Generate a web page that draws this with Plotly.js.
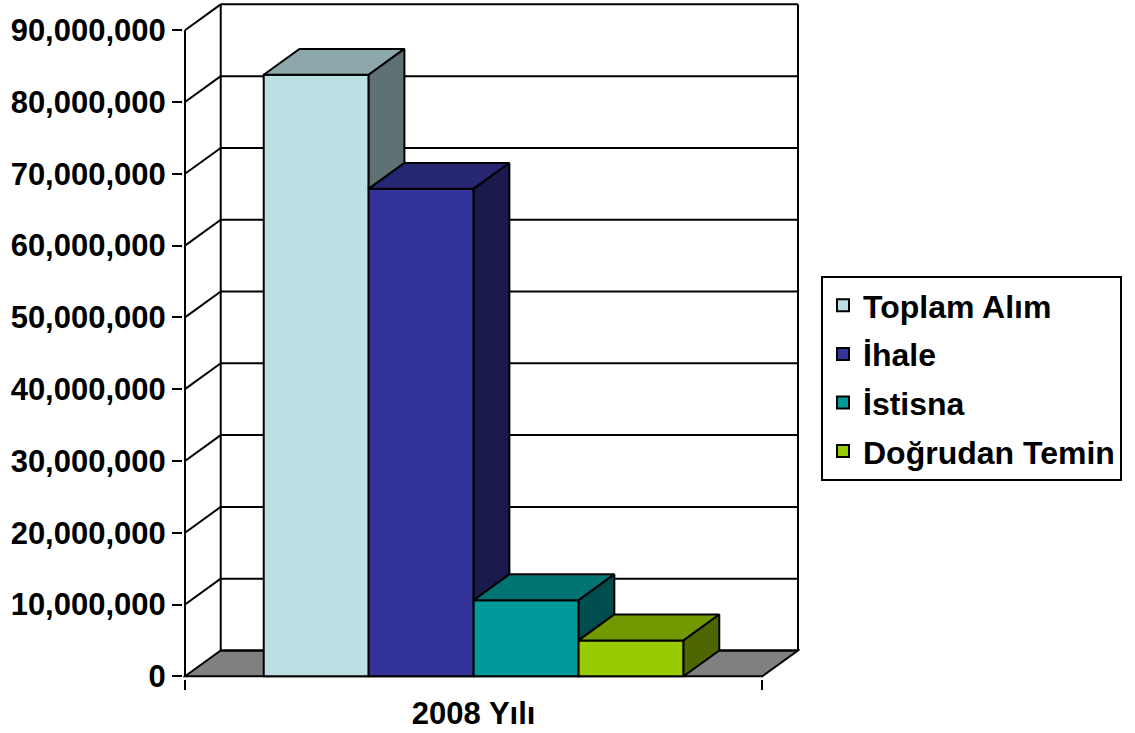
<!DOCTYPE html>
<html>
<head>
<meta charset="utf-8">
<script src="https://cdn.plot.ly/plotly-3.0.1.min.js"></script>
<style>
  html, body { margin: 0; padding: 0; background: #ffffff; }
  #chart { width: 1135px; height: 733px; }
</style>
</head>
<body>
<div id="chart"></div>
<script>
// Purchase totals for 2008, split by procurement method
const category = '2008 Yılı';
const seriesNames = ['Toplam Alım', 'İhale', 'İstisna', 'Doğrudan Temin'];
const seriesValues = [83800000, 67900000, 10600000, 5000000];
const yTicks = [0, 10000000, 20000000, 30000000, 40000000, 50000000, 60000000, 70000000, 80000000, 90000000];

// Face colours for each series: front, top, side
const frontColors = ['#BCE0E4', '#333399', '#009999', '#99CC00'];
const topColors = ['#8DA8AB', '#262673', '#007373', '#739900'];
const sideColors = ['#5E7072', '#1A1A4D', '#004D4D', '#4D6600'];

// Oblique projection of the depth axis, expressed in axis units
const depthX = 0.0619;      // category units
const depthY = 3600000;     // value units
const gapWidth = 1.5;       // gap as a multiple of one bar width
const barW = 1 / (seriesValues.length + gapWidth);
const left0 = -0.5 + (gapWidth * barW) / 2;

const axisFont = { family: 'Liberation Sans, Arial, sans-serif', size: 31, color: '#000000', weight: 'bold' };
const legendFont = { family: 'Liberation Sans, Arial, sans-serif', size: 32, color: '#000000', weight: 'bold' };
const edge = { color: '#000000', width: 2 };

const traces = [];

// Front faces: one bar per series
seriesNames.forEach((name, i) => {
  traces.push({
    type: 'bar',
    name: name,
    x: [0],
    y: [seriesValues[i]],
    width: [barW],
    offset: [left0 + i * barW],
    marker: { color: frontColors[i], line: edge },
    legendgroup: 'g' + i,
    hoverinfo: 'skip'
  });
});

// Top and side faces, painted left to right so each bar covers the one behind it
seriesNames.forEach((name, i) => {
  const v = seriesValues[i];
  const l = left0 + i * barW;
  const r = l + barW;
  const next = i + 1 < seriesValues.length ? Math.min(seriesValues[i + 1], v) : 0;
  traces.push({
    type: 'scatter', mode: 'lines', showlegend: false, hoverinfo: 'skip',
    x: [l, r, r + depthX, l + depthX, l],
    y: [v, v, v + depthY, v + depthY, v],
    fill: 'toself', fillcolor: topColors[i], line: edge,
    legendgroup: 'g' + i
  });
  traces.push({
    type: 'scatter', mode: 'lines', showlegend: false, hoverinfo: 'skip',
    x: [r, r, r + depthX, r + depthX, r],
    y: [next, v, v + depthY, next + depthY, next],
    fill: 'toself', fillcolor: sideColors[i], line: edge,
    legendgroup: 'g' + i
  });
});

// Walls, floor and gridlines of the 3-D box
const shapes = [];
const xl = -0.5, xr = 0.5;
const yTop = yTicks[yTicks.length - 1];
const wallLine = { color: '#000000', width: 2 };
shapes.push({
  type: 'path', xref: 'x', yref: 'y', layer: 'below',
  path: `M${xl},0 L${xr},0 L${xr + depthX},${depthY} L${xl + depthX},${depthY} Z`,
  fillcolor: '#808080', line: wallLine
});
yTicks.forEach(t => {
  shapes.push({ type: 'line', xref: 'x', yref: 'y', layer: 'below',
    x0: xl + depthX, x1: xr + depthX, y0: t + depthY, y1: t + depthY, line: wallLine });
  if (t > 0) {
    shapes.push({ type: 'line', xref: 'x', yref: 'y', layer: 'below',
      x0: xl, x1: xl + depthX, y0: t, y1: t + depthY, line: wallLine });
  }
});
shapes.push({ type: 'line', xref: 'x', yref: 'y', layer: 'below',
  x0: xl + depthX, x1: xl + depthX, y0: depthY, y1: yTop + depthY, line: wallLine });
shapes.push({ type: 'line', xref: 'x', yref: 'y', layer: 'below',
  x0: xr + depthX, x1: xr + depthX, y0: depthY, y1: yTop + depthY, line: wallLine });
shapes.push({ type: 'line', xref: 'x', yref: 'y', layer: 'below',
  x0: xl, x1: xl, y0: 0, y1: yTop, line: wallLine });

const pxPerUnitX = 577.3;
const layout = {
  width: 1135, height: 733,
  margin: { l: 183, r: 335, t: 1, b: 54, pad: 0 },
  paper_bgcolor: '#ffffff', plot_bgcolor: 'rgba(0,0,0,0)',
  barmode: 'overlay',
  showlegend: true,
  font: axisFont,
  xaxis: {
    range: [xl - 2 / pxPerUnitX, xr + depthX + 2 / pxPerUnitX],
    tickmode: 'array', tickvals: [0], ticktext: [category],
    ticks: '', showgrid: false, zeroline: false, showline: false,
    tickfont: axisFont, ticklabelstandoff: 13,
    minor: { tickmode: 'array', tickvals: [xl, xr], ticks: 'outside', ticklen: 10, tickwidth: 2, tickcolor: '#000000', showgrid: false }
  },
  yaxis: {
    range: [-376000, 94070000],
    tickmode: 'array', tickvals: yTicks,
    ticktext: yTicks.map(t => t.toLocaleString('en-US')),
    ticks: 'outside', ticklen: 10, tickwidth: 2, tickcolor: '#000000',
    showgrid: false, zeroline: false, showline: false,
    tickfont: axisFont, ticklabelstandoff: 0
  },
  legend: {
    xref: 'container', yref: 'container',
    x: 821 / 1135, y: 1 - 276 / 733, xanchor: 'left', yanchor: 'top',
    bordercolor: '#000000', borderwidth: 2, bgcolor: '#ffffff',
    font: legendFont, tracegroupgap: 4, traceorder: 'grouped'
  },
  shapes: shapes
};

Plotly.newPlot('chart', traces, layout, { displayModeBar: false, staticPlot: true });
</script>
</body>
</html>
